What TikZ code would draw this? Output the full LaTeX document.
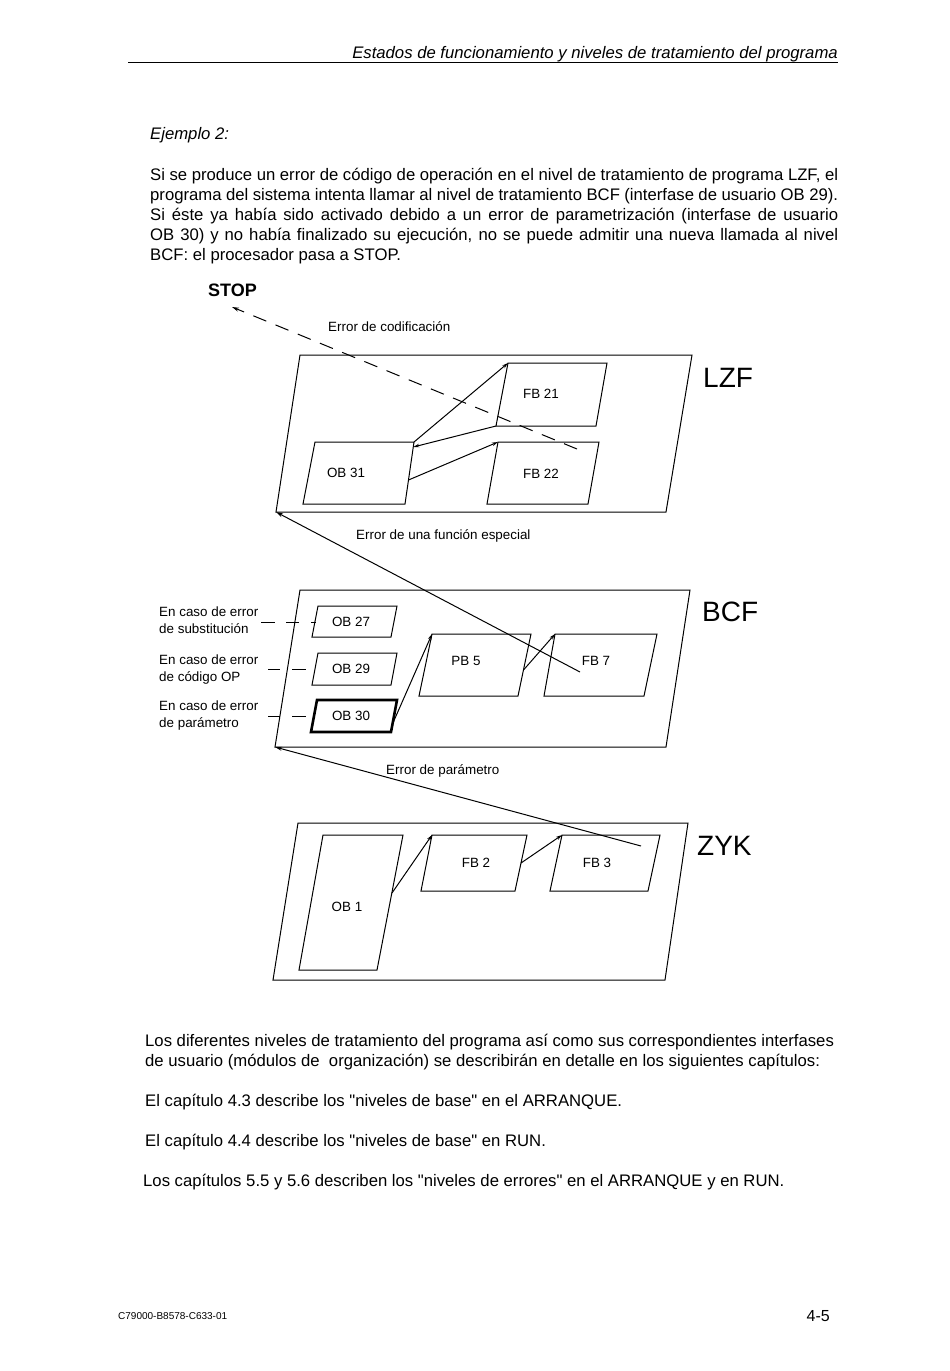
\documentclass[tikz,border=0pt]{standalone}
\usepackage{fontspec}
\setmainfont{Liberation Sans}
\usetikzlibrary{arrows.meta}
\begin{document}
\begin{tikzpicture}[x=1pt,y=-1pt,
  box/.style={draw, line width=1pt, line join=miter},
  thickbox/.style={draw, line width=2.6pt, line join=miter},
  lbl/.style={font=\fontsize{13.4}{15}\selectfont, inner sep=0},
  lblw/.style={lbl, anchor=base west},
  big/.style={font=\fontsize{28}{32}\selectfont, anchor=base west, inner sep=0},
  body/.style={font=\fontsize{16.7}{20}\selectfont, anchor=base west, inner sep=0},
  conn/.style={draw, line width=1pt, -{Stealth[length=6pt,width=3.5pt]}},
  errline/.style={draw, line width=1pt, -{Stealth[length=7pt,width=4pt]}},
  dashln/.style={draw, line width=1pt},
]
\useasboundingbox (0,0) rectangle (950,1371);
\fill[white] (0,0) rectangle (950,1371);

% header
\node[body, font=\fontsize{16.7}{20}\selectfont\itshape, anchor=base east] (hdr) at (838,58) {Estados de funcionamiento y niveles de tratamiento del programa};
\coordinate (hrA) at (128,62);
\coordinate (hrB) at (838,62);
\draw[line width=0.9pt] (hrA) -- (hrB);

\node[body, font=\fontsize{16.7}{20}\selectfont\itshape] (ej) at (150,139) {Ejemplo 2:};

\node[body] (p1) at (150,180.5) {\makebox[688pt][s]{Si se produce un error de código de operación en el nivel de tratamiento de programa LZF, el}};
\node[body] (p2) at (150,200.5) {\makebox[688pt][s]{programa del sistema intenta llamar al nivel de tratamiento BCF (interfase de usuario OB 29).}};
\node[body] (p3) at (150,220.5) {\makebox[688pt][s]{Si éste ya había sido activado debido a un error de parametrización (interfase de usuario}};
\node[body] (p4) at (150,240.5) {\makebox[688pt][s]{OB 30) y no había finalizado su ejecución, no se puede admitir una nueva llamada al nivel}};
\node[body] (p5) at (150,260.5) {BCF: el procesador pasa a STOP.};

% STOP
\node[body, font=\fontsize{18}{20}\selectfont\bfseries] (stop) at (208,296.5) {STOP};
\coordinate (stoptip) at (232,307);
\coordinate (stopstart) at (577,449);
\draw[line width=1pt, dash pattern=on 14pt off 10pt, -{Stealth[length=7pt,width=4pt]}] (stopstart) -- (stoptip);
\node[lblw] (ecod) at (328,331.7) {Error de codificación};

% LZF level
\draw[box] (300,355) -- (692,355) -- (666,512) -- (276,512) coordinate (LZFbl) -- cycle;
\node[big] (lzf) at (703,387) {LZF};

\draw[box] (508,363) coordinate (FB21tl) -- (607,363) -- (596,426) -- (496,426) coordinate (FB21bl) -- cycle;
\node[lbl] (fb21) at (541,394) {FB 21};
\draw[box] (498,442) coordinate (FB22tl) -- (599,442) -- (588,504) -- (487,504) -- cycle;
\node[lbl] (fb22) at (541,474) {FB 22};
\draw[box] (315,442) -- (414,442) coordinate (OB31tr) -- (405,504) -- (303,504) -- cycle;
\node[lbl] (ob31) at (346,473) {OB 31};
\coordinate (OB31r1) at (413.3,447);
\coordinate (OB31r2) at (408.5,480);
\draw[conn] (OB31tr) -- (FB21tl);
\draw[conn] (FB21bl) -- (OB31r1);
\draw[conn] (OB31r2) -- (FB22tl);

% error funcion especial
\node[lblw] (efe) at (356,539.7) {Error de una función especial};
\coordinate (FB7pt) at (580,672);
\draw[errline] (FB7pt) -- (LZFbl);

% BCF level
\draw[box] (300,590) -- (690,590) -- (666,747) -- (275,747) coordinate (BCFbl) -- cycle;
\node[big] (bcf) at (702,621) {BCF};

\draw[box] (318,606) -- (397,606) -- (391,637) -- (312,637) coordinate (OB27bl) -- cycle;
\node[lbl] (ob27) at (351,622) {OB 27};
\draw[box] (318,653) -- (397,653) -- (391,685) -- (312,685) -- cycle;
\node[lbl] (ob29) at (351,669) {OB 29};
\draw[thickbox] (317,700) -- (397,700) -- (391,732) -- (311,732) -- cycle;
\node[lbl] (ob30) at (351,716) {OB 30};
\coordinate (OB30r) at (392.5,724);

\draw[box] (432,634) coordinate (PB5tl) -- (531,634) -- (518,696) -- (419,696) -- cycle;
\node[lbl] (pb5) at (466,661) {PB 5};
\coordinate (PB5r) at (523.5,670);
\draw[box] (555,634) coordinate (FB7tl) -- (657,634) -- (644,696) -- (544,696) -- cycle;
\node[lbl] (fb7) at (596,661) {FB 7};
\draw[conn] (OB30r) -- (PB5tl);
\draw[conn] (PB5r) -- (FB7tl);

% left labels
\node[lblw] (l1a) at (159,616.7) {En caso de error};
\node[lblw] (l1b) at (159,633.7) {de substitución};
\node[lblw] (l2a) at (159,664.7) {En caso de error};
\node[lblw] (l2b) at (159,681.7) {de código OP};
\node[lblw] (l3a) at (159,710.7) {En caso de error};
\node[lblw] (l3b) at (159,727.7) {de parámetro};
\draw[dashln] (261,622) -- (275,622) (286,622) -- (299,622) (311,622) -- (316,622);
\draw[dashln] (268,669) -- (280,669) (292,669) -- (306,669);
\draw[dashln] (268,716) -- (280,716) (292,716) -- (306,716);

% error parametro
\node[lblw] (epar) at (386,774.7) {Error de parámetro};
\coordinate (FB3pt) at (641,846);
\draw[errline] (FB3pt) -- (BCFbl);

% ZYK level
\draw[box] (298,823) -- (688,823) -- (665,980) -- (273,980) -- cycle;
\node[big] (zyk) at (697,855) {ZYK};
\draw[box] (323,835) -- (403,835) -- (377,970) -- (299,970) -- cycle;
\node[lbl] (ob1) at (347,907) {OB 1};
\coordinate (OB1r) at (392,893);
\draw[box] (432,835) coordinate (FB2tl) -- (527,835) -- (515,891) -- (421,891) -- cycle;
\node[lbl] (fb2) at (476,863) {FB 2};
\coordinate (FB2r) at (521,863);
\draw[box] (562,835) coordinate (FB3tl) -- (660,835) -- (648,891) -- (550,891) -- cycle;
\node[lbl] (fb3) at (597,863) {FB 3};
\draw[conn] (OB1r) -- (FB2tl);
\draw[conn] (FB2r) -- (FB3tl);

% bottom text
\node[body] (b1) at (145,1046.5) {Los diferentes niveles de tratamiento del programa así como sus correspondientes interfases};
\node[body] (b2) at (145,1066.5) {de usuario (módulos de\ \ organización) se describirán en detalle en los siguientes capítulos:};
\node[body] (b3) at (145,1106.5) {El capítulo 4.3 describe los \textquotedbl niveles de base\textquotedbl\ en el ARRANQUE.};
\node[body] (b4) at (145,1146.5) {El capítulo 4.4 describe los \textquotedbl niveles de base\textquotedbl\ en RUN.};
\node[body] (b5) at (143,1186.5) {Los capítulos 5.5 y 5.6 describen los \textquotedbl niveles de errores\textquotedbl\ en el ARRANQUE y en RUN.};

% footer
\node[body, font=\fontsize{10}{12}\selectfont] (code) at (118,1319.5) {C79000-B8578-C633-01};
\node[body, font=\fontsize{16}{18}\selectfont, anchor=base east] (pg) at (830,1321) {4-5};
\end{tikzpicture}
\end{document}
